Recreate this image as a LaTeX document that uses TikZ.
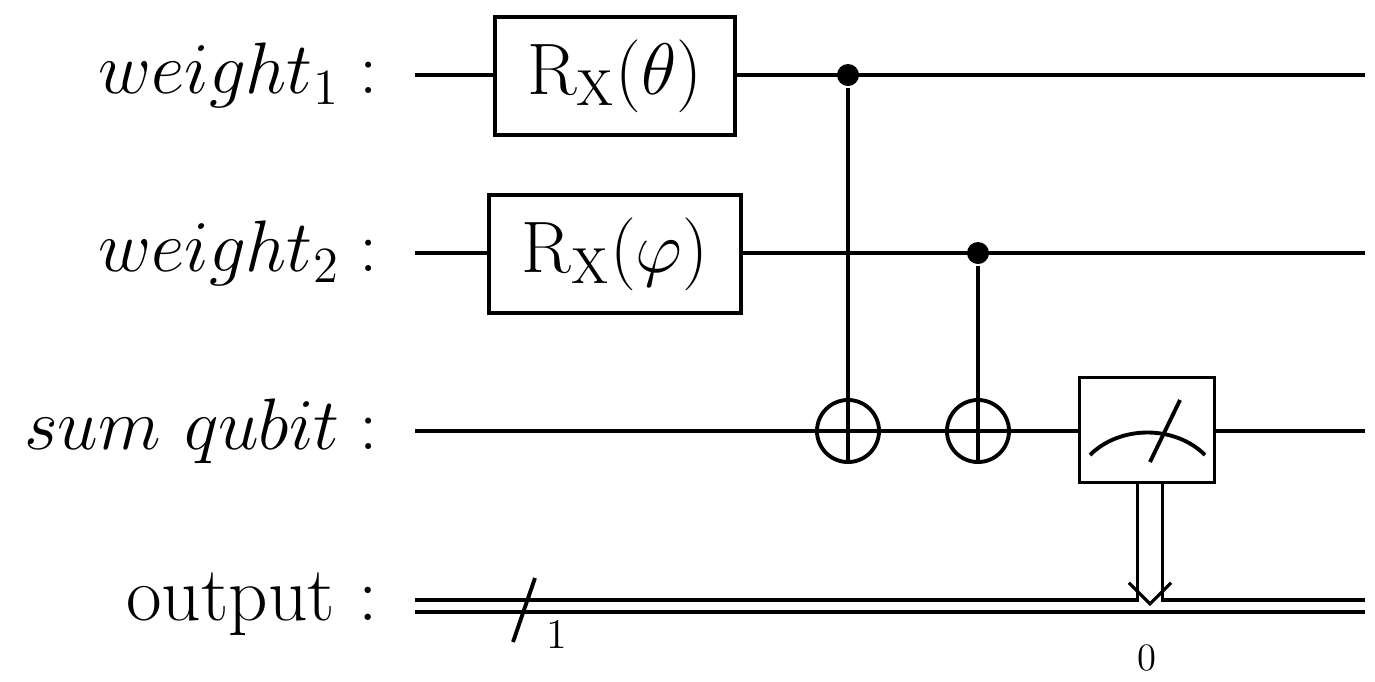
\documentclass[tikz,border=0pt]{standalone}
\usepackage{amsmath}
\usetikzlibrary{arrows.meta}
\begin{document}
\begin{tikzpicture}[x=0.01cm,y=-0.01cm,line width=1.1pt,
  lbl/.style={anchor=east,inner sep=0pt,font=\fontsize{22}{26}\selectfont},
  gate/.style={draw,fill=white,inner sep=0pt,font=\fontsize{22.5}{26}\selectfont},
  ctrl/.style={circle,fill,inner sep=0pt,minimum size=0.22cm},
  targ/.style={circle,draw,fill=white,inner sep=0pt,minimum size=0.62cm}]
\useasboundingbox (0,0) rectangle (1375,681);
% labels
\node[lbl] (l1) at (380,75) {$weight_1:$};
\node[lbl] (l2) at (380,253) {$weight_2:$};
\node[lbl] (l3) at (380,431) {$sum\ qubit:$};
\node[lbl] (l4) at (380,604) {output :};
% wires
\coordinate (w1a) at (415,75);  \coordinate (w1b) at (1365,75);
\coordinate (w2a) at (415,253); \coordinate (w2b) at (1365,253);
\coordinate (w3a) at (415,431); \coordinate (w3b) at (1365,431);
\draw (w1a) -- (w1b);
\draw (w2a) -- (w2b);
\draw (w3a) -- (w3b);
\draw (415,600) -- (1365,600);
\draw (415,612) -- (1365,612);
% classical slash
\draw (513,642) -- (535,578);
\node[font=\fontsize{12}{14}\selectfont] (n1) at (557,634) {1};
% gates
\node[gate,minimum width=2.4cm,minimum height=1.18cm] (rx1) at (615,76) {$\mathrm{R}_{\mathrm{X}}(\theta)$};
\node[gate,minimum width=2.52cm,minimum height=1.18cm] (rx2) at (615,254) {$\mathrm{R}_{\mathrm{X}}(\varphi)$};
% CNOTs
\node[ctrl] (c1) at (848,75) {};
\node[targ] (t1) at (848,431) {};
\draw (c1) -- (t1.south);
\draw (t1.west) -- (t1.east);
\node[ctrl] (c2) at (978,253) {};
\node[targ] (t2) at (978,431) {};
\draw (c2) -- (t2.south);
\draw (t2.west) -- (t2.east);
% measurement
\node[gate,minimum width=1.35cm,minimum height=1.05cm] (m) at (1147,430) {};
\draw (1090,455) .. controls (1120,425) and (1175,425) .. (1205,455);
\draw (1150,462) -- (1180,400);
\coordinate (mo) at (1150,606);
\draw[double,double distance=6pt,line width=0.9pt,-{Straight Barb[length=6pt,width=12pt]}] (m.south -| mo) -- (mo);
\node[font=\fontsize{11}{13}\selectfont] (n0) at (1147,658) {0};
\end{tikzpicture}
\end{document}
